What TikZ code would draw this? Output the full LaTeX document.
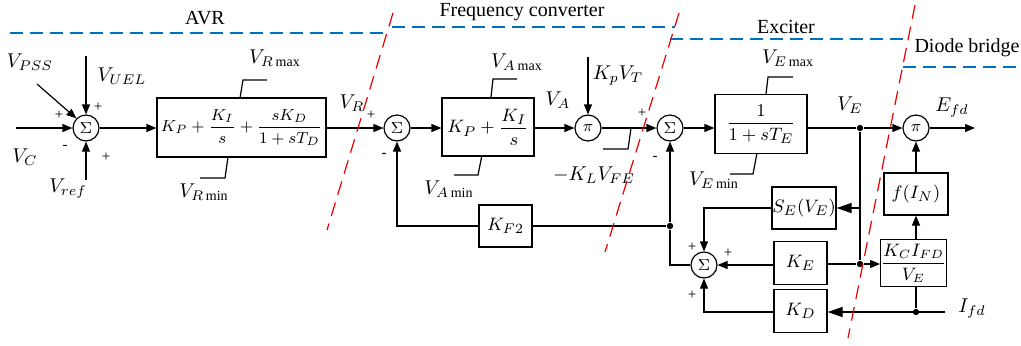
\documentclass[tikz,border=0pt]{standalone}
\usepackage{fontspec}
\setmainfont{Liberation Serif}
\newfontfamily\regfont{Liberation Serif}
\usetikzlibrary{arrows.meta,calc}
\definecolor{dblue}{RGB}{0,112,192}
\definecolor{dred}{RGB}{235,0,0}
\begin{document}
\begin{tikzpicture}[x=0.5pt,y=-0.5pt,
  line width=0.6pt,
  arr/.style={-{Triangle[length=5pt,width=4pt]}},
  bigarr/.style={-{Triangle[length=7.5pt,width=5pt]}},
  sumnode/.style={circle,draw,minimum size=13pt,inner sep=0pt,font=\fontsize{8}{9}\selectfont},
  blk/.style={draw,inner sep=0pt,font=\fontsize{9.5}{11}\selectfont},
  lbl/.style={font=\fontsize{10}{12}\selectfont,inner sep=0pt},
  sgn/.style={font=\regfont\fontsize{7.5}{8}\selectfont,inner sep=0pt},
  region/.style={font=\regfont\fontsize{10}{12}\selectfont,inner sep=0pt},
  blueline/.style={draw=dblue,dash pattern=on 6.5pt off 3.5pt,line width=0.6pt},
  redline/.style={draw=dred,dash pattern=on 7pt off 4pt,line width=0.6pt},
  dot/.style={circle,fill,inner sep=0pt,minimum size=3.2pt}
]
\useasboundingbox (0,0) rectangle (1021,345);

% ---- region labels and blue separators
\node[region] (avr) at (205,18) {AVR};
\node[region] (fc) at (522,12) {Frequency converter};
\node[region] (exc) at (786,27) {Exciter};
\node[region] (db) at (967,48) {Diode bridge};
\draw[blueline] (10,33) -- (390,33);
\draw[blueline] (392,27) -- (675,27);
\draw[blueline] (670,39) -- (910,39);
\draw[blueline] (903,67) -- (1021,67);

% ---- blocks
\node[sumnode] (s1) at (86,128) {$\Sigma$};
\node[blk,minimum width=84.5pt,minimum height=29.5pt,font=\fontsize{8}{9}\selectfont] (b1) at (241.5,127.5)
  {$K_P+\displaystyle\frac{K_I}{s}+\frac{sK_D}{1+sT_D}$};
\node[sumnode] (s2) at (397,128) {$\Sigma$};
\node[blk,minimum width=46pt,minimum height=29pt] (b2) at (488,127) {$K_P+\displaystyle\frac{K_I}{s}$};
\node[sumnode] (p1) at (588,128) {$\pi$};
\node[sumnode] (s3) at (670,128) {$\Sigma$};
\node[blk,minimum width=46pt,minimum height=29.5pt] (b3) at (761,124) {$\displaystyle\frac{1}{1+sT_E}$};
\node[dot] (ve) at (860,128) {};
\node[sumnode] (p2) at (916,128) {$\pi$};
\coordinate (efd) at (975,128);

\node[blk,minimum width=32pt,minimum height=21pt] (se) at (804,208) {$S_E(V_E)$};
\node[blk,minimum width=26.5pt,minimum height=21.5pt] (ke) at (800.5,263) {$K_E$};
\node[blk,minimum width=26.5pt,minimum height=21.5pt] (kd) at (800.5,311) {$K_D$};
\node[blk,minimum width=31.5pt,minimum height=23.5pt,font=\fontsize{9}{10}\selectfont] (kc) at (913.5,263) {$\displaystyle\frac{K_C I_{FD}}{V_E}$};
\node[blk,minimum width=32pt,minimum height=21pt] (fn) at (916,194) {$f(I_N)$};
\node[sumnode] (s4) at (704,265) {$\Sigma$};
\node[blk,minimum width=26.5pt,minimum height=21pt] (kf) at (505.5,226) {$K_{F2}$};

\node[dot] (d1) at (860,264) {};
\node[dot] (d2) at (916,312) {};
\node[dot] (d3) at (670,226) {};

% ---- input coordinates
\coordinate (vcin) at (16,128);
\coordinate (pssin) at (37,84);
\coordinate (uelin) at (86,56);
\coordinate (refin) at (86,180);
\coordinate (kpin) at (588,57);
\coordinate (ifdin) at (945,312);
\coordinate (kl0) at (603,149);
\coordinate (kl1) at (628,149);
\coordinate (kl2) at (631,128);

% ---- connectors
\draw[arr] (vcin) -- (s1.west);
\draw[arr] (pssin) -- (s1.135);
\draw[arr] (uelin) -- (s1.north);
\draw[arr] (refin) -- (s1.south);
\draw[arr] (s1.east) -- (b1.west |- s1.east);
\draw[arr] (b1.east |- s2.west) -- (s2.west);
\draw[arr] (s2.east) -- (b2.west |- s2.east);
\draw[arr] (b2.east |- p1.west) -- (p1.west);
\draw[arr] (kpin) -- (p1.north);
\draw[arr] (p1.east) -- (s3.west);
\draw (kl0) -- (kl1) -- (kl2);
\draw[arr] (s3.east) -- (b3.west |- s3.east);
\draw (b3.east |- ve) -- (ve);
\draw[arr] (ve) -- (p2.west);
\draw[arr] (p2.east) -- (efd);
\draw (ve) -- (d1);
\draw[bigarr] (ve |- se.east) -- (se.east);
\draw[arr] (se.west) -| (s4.north);
\draw[arr] (ke.west |- s4.east) -- (s4.east);
\draw (d1) -- (ke.east |- d1);
\draw[arr] (d1) -- (kc.west |- d1);
\draw[arr] (kc.north -| fn) -- (fn.south);
\draw[arr] (fn.north) -- (p2.south);
\draw[bigarr] (ifdin) -- (kd.east |- ifdin);
\draw (d2) -- (kc.south -| d2);
\draw[arr] (kd.west |- ifdin) -| (s4.south);
\draw (s4.west) -| (d3);
\draw[arr] (d3) -- (s3.south);
\draw (d3) -- (kf.east |- d3);
\draw[arr] (kf.west |- d3) -| (s2.south);

% ---- limiters
\draw (240,98) -- (243,80) -- (267,80);
\draw (228,157) -- (225,178) -- (200,178);
\draw (491,97) -- (493,79) -- (517,79);
\draw (482,155) -- (478,175) -- (454,175);
\draw (766,94) -- (768,77) -- (793,77);
\draw (757,153) -- (753,174) -- (730,174);

% ---- labels
\node[lbl] (lpss) at (30,62) {$V_{PSS}$};
\node[lbl] (luel) at (122,76) {$V_{UEL}$};
\node[lbl] (lvc) at (25,157) {$V_C$};
\node[lbl] (lref) at (68,189) {$V_{ref}$};
\node[sgn] (g1) at (59,115) {+};
\node[sgn] (g2) at (98,107) {+};
\node[sgn] (g3) at (65,147) {-};
\node[sgn] (g4) at (106,157) {+};
\node[lbl] (lrmax) at (275,58) {$V_{R\max}$};
\node[lbl] (lrmin) at (204,192) {$V_{R\min}$};
\node[lbl] (lvr) at (352,103) {$V_R$};
\node[sgn] (g5) at (371,115) {+};
\node[sgn] (g6) at (384,155) {-};
\node[lbl] (lamax) at (517,62) {$V_{A\max}$};
\node[lbl] (lamin) at (449,189) {$V_{A\min}$};
\node[lbl] (lva) at (558,100) {$V_A$};
\node[lbl] (lkp) at (618,76) {$K_pV_T$};
\node[sgn] (g7) at (642,113) {+};
\node[sgn] (g8) at (655,158) {-};
\node[lbl] (lkl) at (594,175) {$-K_LV_{FE}$};
\node[lbl] (lemax) at (788,58) {$V_{E\max}$};
\node[lbl] (lemin) at (714,180) {$V_{E\min}$};
\node[lbl] (lve) at (850,105) {$V_E$};
\node[lbl] (lefd) at (952,108) {$E_{fd}$};
\node[lbl] (lifd) at (972,309) {$I_{fd}$};
\node[sgn] (g9) at (692,247) {+};
\node[sgn] (g10) at (728,253) {+};
\node[sgn] (g11) at (692,295) {+};

% ---- red boundaries
\draw[redline] (393,13) -- (327,230);
\draw[redline] (679,13) -- (605,252);
\draw[redline] (915,5) -- (848,338);
\end{tikzpicture}
\end{document}
